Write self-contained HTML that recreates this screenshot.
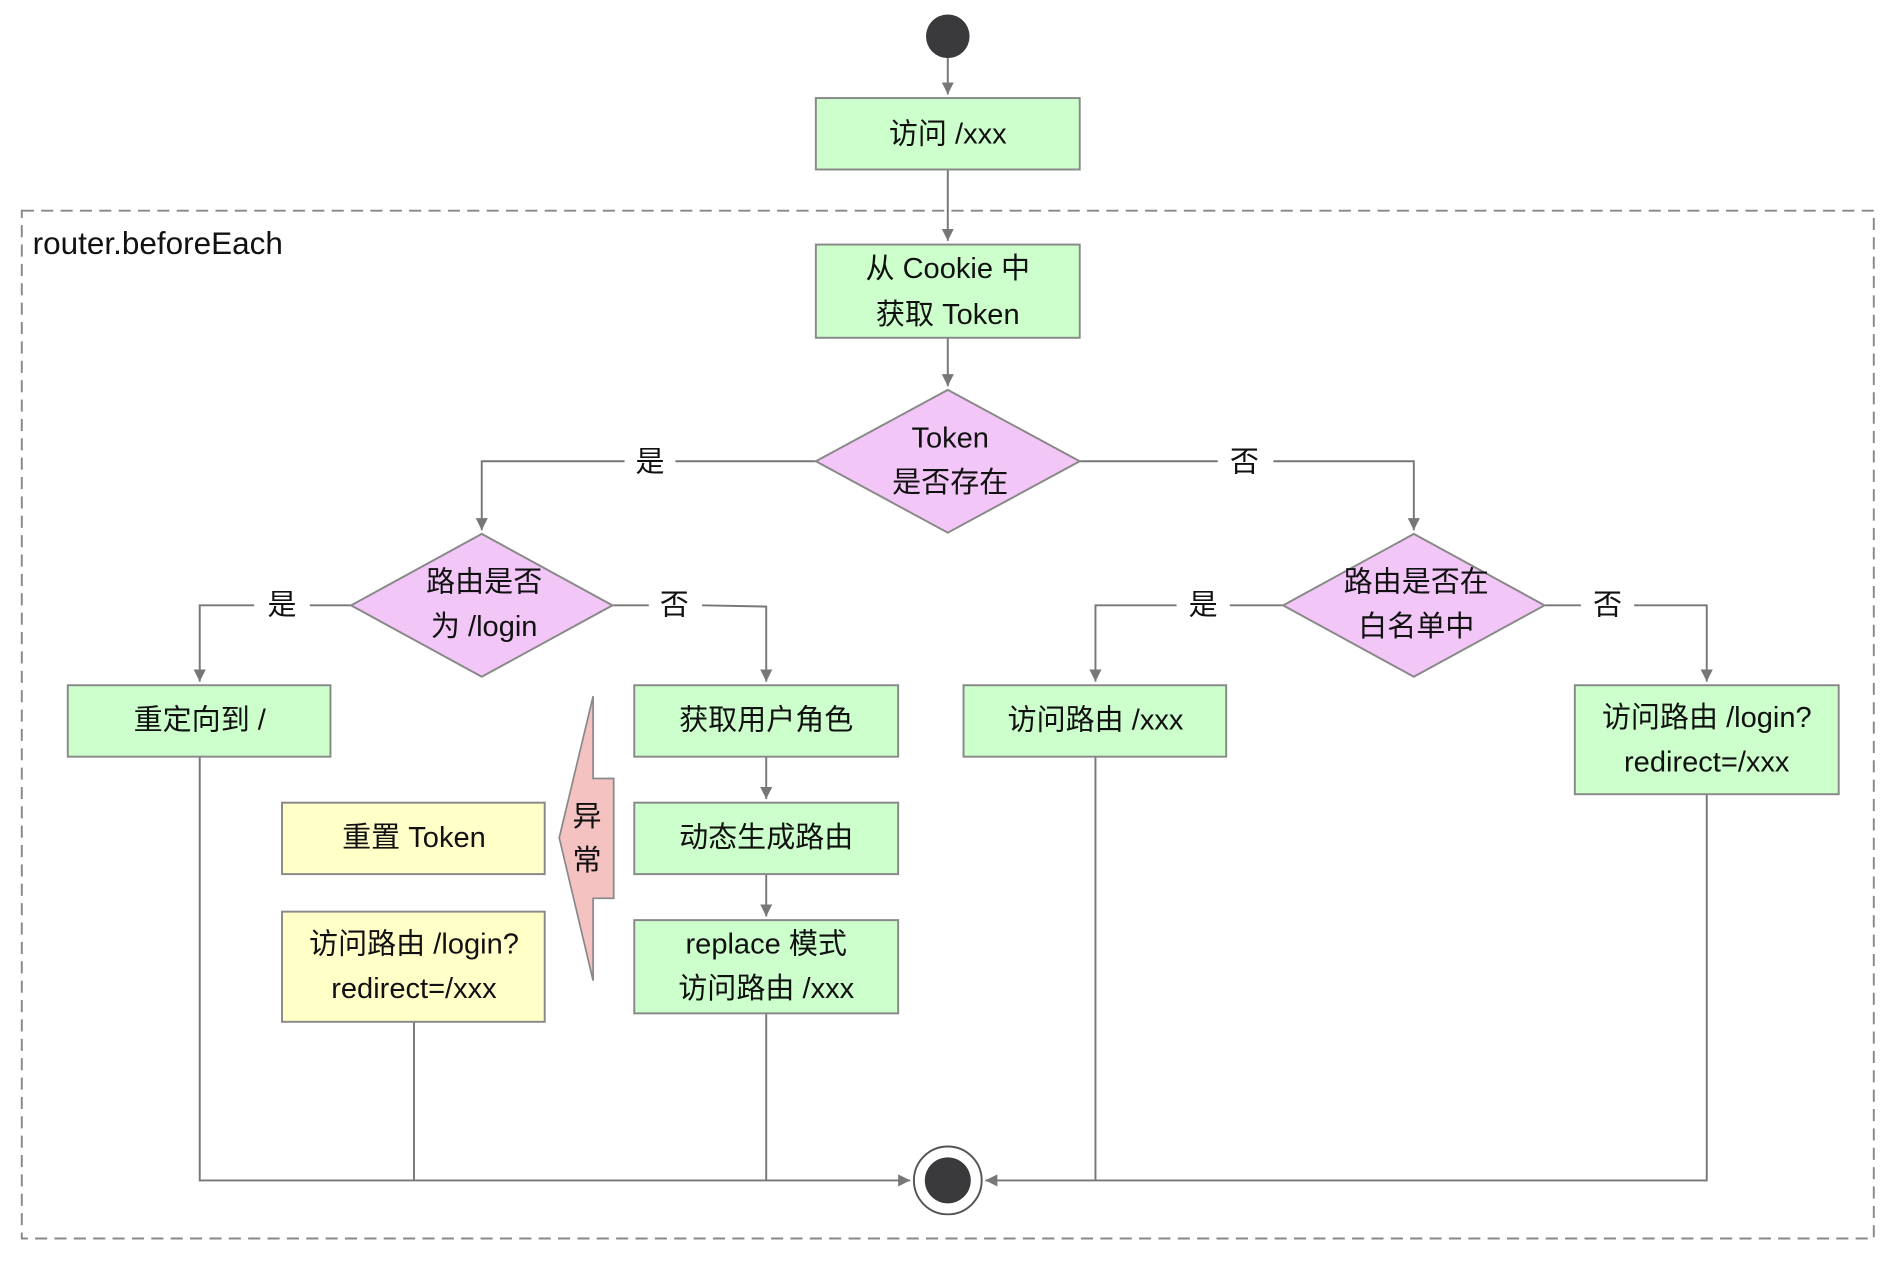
<!DOCTYPE html>
<html><head><meta charset="utf-8"><style>
html,body{margin:0;padding:0;background:#fff}
svg{display:block}
text{font-family:"Liberation Sans","Noto Sans CJK SC",sans-serif;font-size:24px;fill:#111;text-anchor:middle;dominant-baseline:central}
</style></head><body>
<svg width="1898" height="1270" viewBox="0 0 1568 1049" preserveAspectRatio="none" xmlns="http://www.w3.org/2000/svg">
<defs><marker id="a" markerWidth="12" markerHeight="12" refX="10" refY="5" orient="auto" markerUnits="userSpaceOnUse"><path d="M0,0 L10,5 L0,10 z" fill="#777"/></marker></defs>
<rect x="18" y="174" width="1530" height="849" fill="none" stroke="#888" stroke-width="1.6" stroke-dasharray="10,6"/>
<text x="27" y="201" style="text-anchor:start;font-size:26px">router.beforeEach</text>
<g stroke="#777" stroke-width="1.6" fill="none">
<line x1="783" y1="48" x2="783" y2="78" marker-end="url(#a)"/>
<line x1="783" y1="140" x2="783" y2="199" marker-end="url(#a)"/>
<line x1="783" y1="279" x2="783" y2="319" marker-end="url(#a)"/>
<polyline points="674,381 558,381"/><polyline points="516,381 398,381 398,438" marker-end="url(#a)"/>
<polyline points="892,381 1006,381"/><polyline points="1052,381 1168,381 1168,438" marker-end="url(#a)"/>
<polyline points="290,500 256,500"/><polyline points="210,500 165,500 165,563" marker-end="url(#a)"/>
<polyline points="506,500 536,500"/><polyline points="580,500 633,501 633,563" marker-end="url(#a)"/>
<polyline points="1060,500 1016,500"/><polyline points="972,500 905,500 905,563" marker-end="url(#a)"/>
<polyline points="1276,500 1306,500"/><polyline points="1350,500 1410,500 1410,563" marker-end="url(#a)"/>
<line x1="633" y1="625" x2="633" y2="660" marker-end="url(#a)"/>
<line x1="633" y1="722" x2="633" y2="757" marker-end="url(#a)"/>
<polyline points="165,625 165,975 752,975" marker-end="url(#a)"/>
<line x1="342" y1="844" x2="342" y2="975"/>
<line x1="633" y1="837" x2="633" y2="975"/>
<polyline points="1410,656 1410,975 814,975" marker-end="url(#a)"/>
<line x1="905" y1="625" x2="905" y2="975"/>
</g>
<circle cx="783" cy="30" r="18" fill="#3a3a3c"/>
<circle cx="783" cy="975" r="28" fill="#fff" stroke="#555" stroke-width="1.6"/>
<circle cx="783" cy="975" r="19" fill="#3a3a3c"/>
<g fill="#ccffcc" stroke="#888" stroke-width="1.6">
<rect x="674" y="81" width="218" height="59"/>
<rect x="674" y="202" width="218" height="77"/>
<rect x="56" y="566" width="217" height="59"/>
<rect x="524" y="566" width="218" height="59"/>
<rect x="796" y="566" width="217" height="59"/>
<rect x="1301" y="566" width="218" height="90"/>
<rect x="524" y="663" width="218" height="59"/>
<rect x="524" y="760" width="218" height="77"/>
</g>
<g fill="#ffffc8" stroke="#888" stroke-width="1.6">
<rect x="233" y="663" width="217" height="59"/>
<rect x="233" y="753" width="217" height="91"/>
</g>
<g fill="#f2c6f7" stroke="#888" stroke-width="1.6">
<polygon points="783,322 892,381 783,440 674,381"/>
<polygon points="398,441 506,500 398,559 290,500"/>
<polygon points="1168,441 1276,500 1168,559 1060,500"/>
</g>
<polygon points="490,575 490,643 507,643 507,742 490,742 490,810 462,692" fill="#f5c2c2" stroke="#888" stroke-width="1.4"/>
<text x="783" y="111">访问 /xxx</text>
<text x="783" y="222">从 Cookie 中</text><text x="783" y="260">获取 Token</text>
<text x="785" y="362">Token</text><text x="785" y="399">是否存在</text>
<text x="400" y="481">路由是否</text><text x="400" y="518">为 /login</text>
<text x="1170" y="481">路由是否在</text><text x="1170" y="518">白名单中</text>
<text x="537" y="382">是</text><text x="1028" y="382">否</text>
<text x="233" y="500">是</text><text x="557" y="500">否</text>
<text x="994" y="500">是</text><text x="1328" y="500">否</text>
<text x="165" y="595">重定向到 /</text>
<text x="633" y="595">获取用户角色</text>
<text x="905" y="595">访问路由 /xxx</text>
<text x="1410" y="593">访问路由 /login?</text><text x="1410" y="630">redirect=/xxx</text>
<text x="633" y="692">动态生成路由</text>
<text x="633" y="780">replace 模式</text><text x="633" y="817">访问路由 /xxx</text>
<text x="342" y="692">重置 Token</text>
<text x="342" y="780">访问路由 /login?</text><text x="342" y="817">redirect=/xxx</text>
<text x="485" y="675">异</text><text x="485" y="711">常</text>
</svg>
</body></html>
